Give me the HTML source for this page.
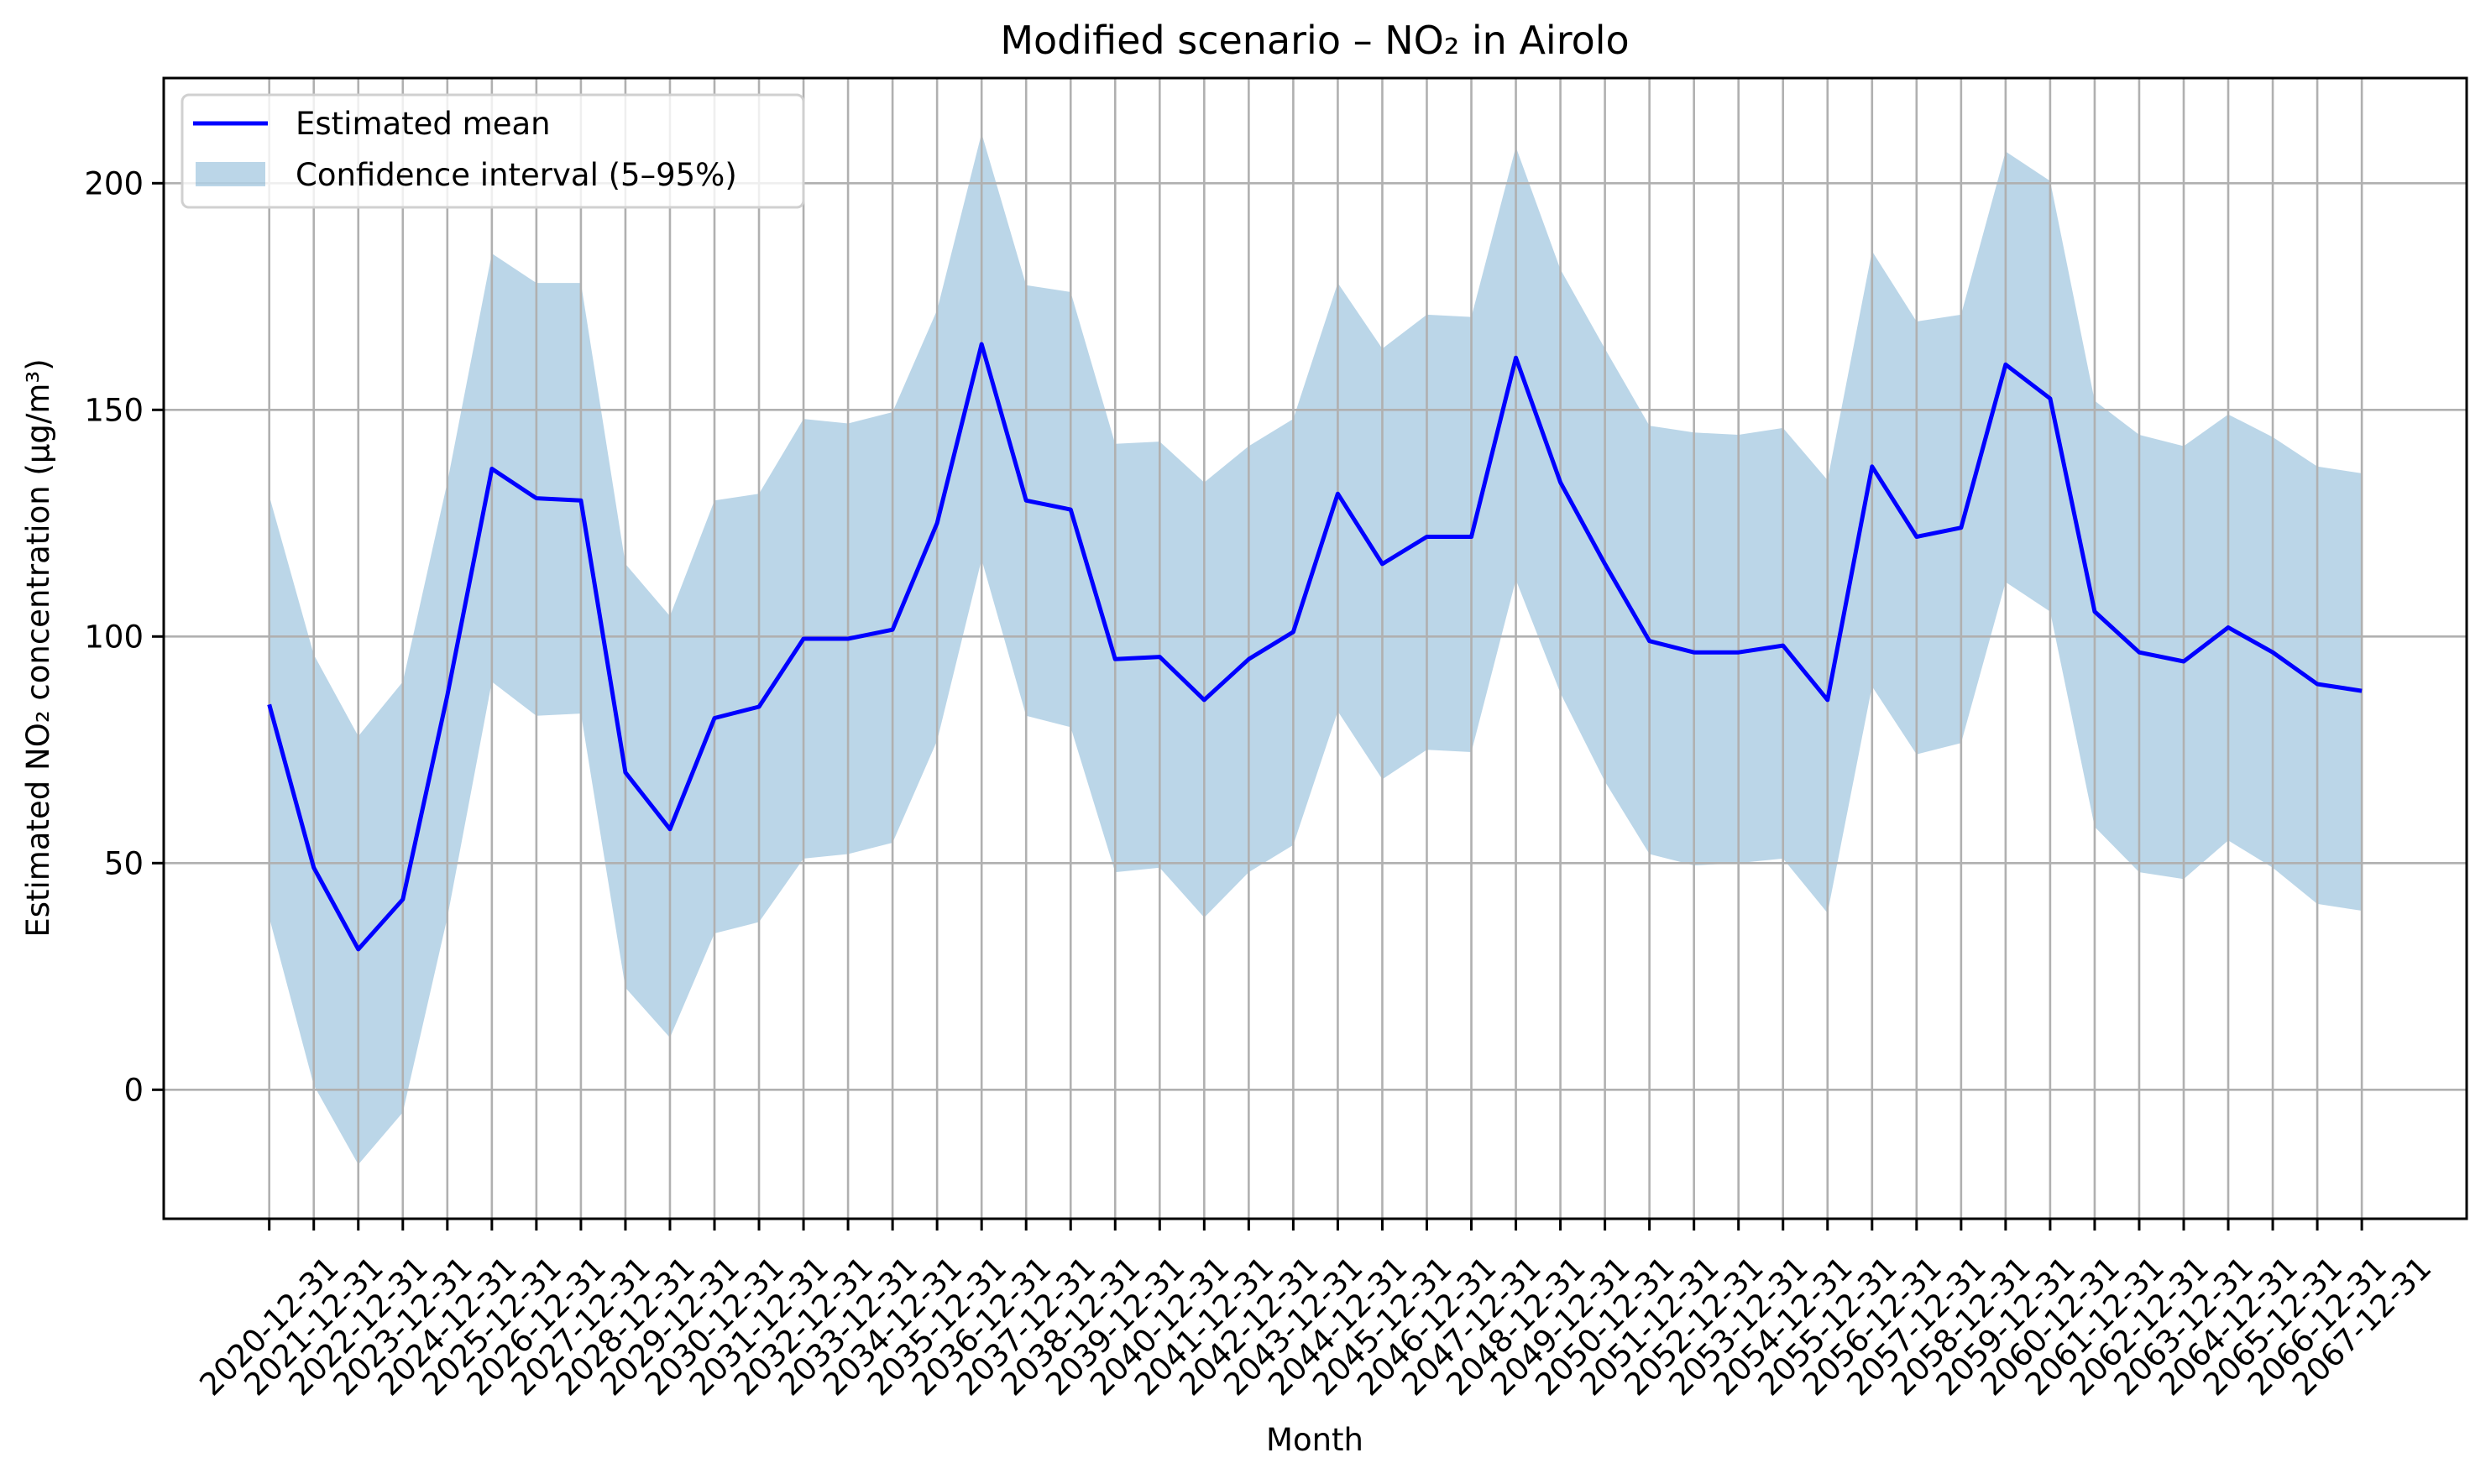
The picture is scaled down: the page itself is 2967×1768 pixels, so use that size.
<!DOCTYPE html>
<html><head><meta charset="utf-8"><style>
html,body{margin:0;padding:0;background:#fff;}
svg{display:block;font-family:"DejaVu Sans","Liberation Sans",sans-serif;}
</style></head><body>
<svg id="chart" width="2967" height="1768" viewBox="0 0 2967 1768" xmlns="http://www.w3.org/2000/svg">
<rect width="2967" height="1768" fill="#fff"/>
<g id="band"></g>
<g id="grid"></g>
<g id="line"></g>
<rect x="195" y="93" width="2743" height="1359" fill="none" stroke="#000" stroke-width="3"/>
<g id="xticks"></g>
<g id="yticks"></g>
<text x="1566" y="64" font-size="46" text-anchor="middle">Modified scenario – NO₂ in Airolo</text>
<text x="1566" y="1728" font-size="37" text-anchor="middle">Month</text>
<text transform="translate(58,772) rotate(-90)" font-size="37" text-anchor="middle">Estimated NO₂ concentration (µg/m³)</text>
<g>
<rect x="217" y="113" width="740" height="134" rx="8" fill="#fff" fill-opacity="0.8" stroke="#d0d0d0" stroke-width="3"/>
<line x1="230" y1="147" x2="319" y2="147" stroke="#0000ff" stroke-width="5"/>
<text x="352" y="160" font-size="37">Estimated mean</text>
<rect x="233" y="193" width="83" height="29" fill="#1f77b4" fill-opacity="0.3"/>
<text x="352" y="221" font-size="37">Confidence interval (5–95%)</text>
</g>
</svg>
<script>
const categories = [];
for (let y = 2020; y <= 2067; y++) categories.push(y + "-12-31");
const meanValues = [85,49,31,42,87,137,130.5,130,70,57.5,82,84.5,99.5,99.5,101.5,125,164.5,130,128,95,95.5,86,95,101,131.5,116,122,122,161.5,134,116,99,96.5,96.5,98,86,137.5,122,124,160,152.5,105.5,96.5,94.5,102,96.5,89.5,88];
const upperValues = [131,96,78,90,134,184.5,178,178,116,104.5,130,131.5,148,147,149.5,172,211,177.5,176,142.5,143,134,142,148,178,163.5,171,170.5,208,181,163.5,146.5,145,144.5,146,134.5,185,169.5,171,207,200.5,152,144.5,142,149,144,137.5,136];
const lowerValues = [38,1,-16.5,-5,38,90,82.5,83,22.5,11.5,34.5,37,51,52,54.5,77,117,82.5,80,48,49,38,48,54,83.5,68.5,75,74.5,112.5,87.5,68,52,49.5,50,51,39,89,74,76.5,112,105.5,58,48,46.5,55,49,41,39.5];
const yTicks = [0,50,100,150,200];

const NS = "http://www.w3.org/2000/svg";
const L = 195, R = 2938, T = 93, B = 1452;
const x0 = 320.7, dx = 53.03;
function xs(i){ return x0 + i*dx; }
function ys(v){ return 1298.3 - v*5.4; }
function mk(tag, attrs, parent){
  const e = document.createElementNS(NS, tag);
  for (const k in attrs) e.setAttribute(k, attrs[k]);
  parent.appendChild(e); return e;
}
const grid = document.getElementById("grid");
const xt = document.getElementById("xticks");
const yt = document.getElementById("yticks");
categories.forEach((c, i) => {
  const x = xs(i);
  const g = mk("line", {x1:x, y1:T, x2:x, y2:B, stroke:"#b0b0b0", "stroke-width":2.6}, grid);
  
  
  const t = mk("line", {x1:x, y1:B, x2:x, y2:B+14, stroke:"#000", "stroke-width":3}, xt);
  
  
  const lb = mk("text", {transform:`translate(${x},1580) rotate(-45)`, "font-size":37, "text-anchor":"middle", "dominant-baseline":"central"}, xt);
  lb.textContent = c;
  
  
});
yTicks.forEach(v => {
  const y = ys(v);
  const g = mk("line", {x1:L, y1:y, x2:R, y2:y, stroke:"#b0b0b0", "stroke-width":2.6}, grid);
  
  
  const t = mk("line", {x1:L-14, y1:y, x2:L, y2:y, stroke:"#000", "stroke-width":3}, yt);
  
  
  const lb = mk("text", {x:L-24, y:y+13, "font-size":37, "text-anchor":"end"}, yt);
  lb.textContent = v;
  
  
});
let pts = upperValues.map((v,i)=>xs(i)+","+ys(v));
for (let i = lowerValues.length-1; i >= 0; i--) pts.push(xs(i)+","+ys(lowerValues[i]));
const band = mk("polygon", {points: pts.join(" "), fill:"#1f77b4", "fill-opacity":0.3}, document.getElementById("band"));


const ln = mk("polyline", {points: meanValues.map((v,i)=>xs(i)+","+ys(v)).join(" "), fill:"none", stroke:"#0000ff", "stroke-width":5, "stroke-linejoin":"round"}, document.getElementById("line"));


</script>
</body></html>
